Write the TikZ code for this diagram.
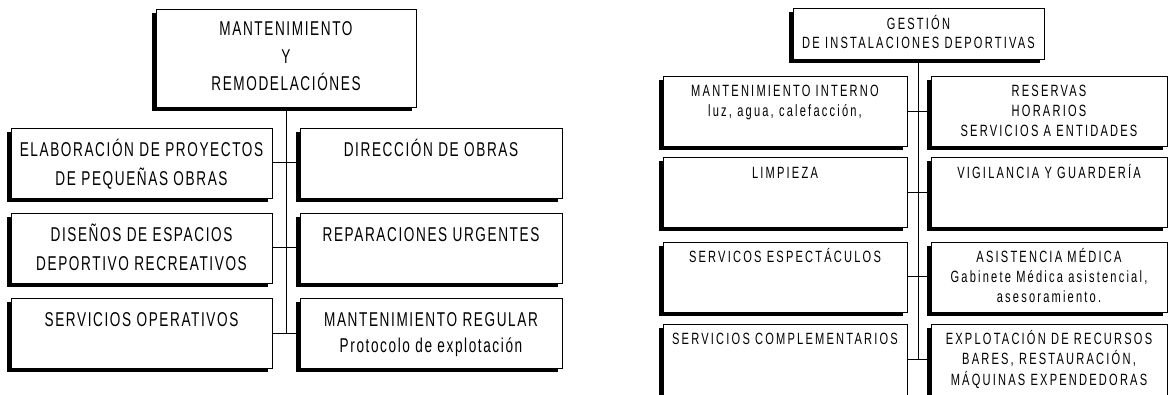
\documentclass[tikz,border=0pt]{standalone}
\usepackage{fontspec}
\setmainfont{Liberation Sans}
\newfontfamily\bigf[FakeStretch=0.68,LetterSpace=8]{Liberation Sans}
\newfontfamily\smallf[FakeStretch=0.68,LetterSpace=13.5]{Liberation Sans}
\usetikzlibrary{shadows}
\begin{document}
\begin{tikzpicture}[x=1pt,y=-1pt,
  box/.style={draw=black, line width=0.9pt, fill=white, inner sep=0pt, outer sep=0pt,
    drop shadow={shadow xshift=-4pt, shadow yshift=-4pt, fill=black, opacity=1}},
  lbox/.style={box, minimum width=261pt, minimum height=70pt},
  rbox/.style={box, minimum width=262pt, minimum height=70pt},
  glbox/.style={box, minimum width=244pt, minimum height=70pt},
  grbox/.style={box, minimum width=236pt, minimum height=70pt},
  ltext/.style={anchor=base, align=center, inner sep=0pt, font=\bigf\fontsize{20}{29}\selectfont},
  rtext/.style={anchor=base, align=center, inner sep=0pt, font=\smallf\fontsize{16.3}{20}\selectfont},
  link/.style={draw=black, line width=1pt}]
\useasboundingbox (0,0) rectangle (1168,395);
\clip (0,0) rectangle (1168,395);
\fill[white] (0,0) rectangle (1168,395);

% ---------- left diagram ----------
\node[box, minimum width=260pt, minimum height=98pt] (mtop) at (286,58) {};
\node[lbox] (mL1) at (141.5,163) {};
\node[rbox] (mR1) at (431,163) {};
\node[lbox] (mL2) at (141.5,248) {};
\node[rbox] (mR2) at (431,248) {};
\node[lbox] (mL3) at (141.5,333.5) {};
\node[rbox] (mR3) at (431,333.5) {};

\draw[link] (mtop.south) -- (mtop.south |- mL3.east);
\draw[link] (mL1.east) -- (mR1.west);
\draw[link] (mL2.east) -- (mR2.west);
\draw[link] (mL3.east) -- (mR3.west);

% (anchor=base of a multi-line node is the baseline of its last line)
\node[ltext, font=\bigf\fontsize{20}{27.5}\selectfont] (tmtop) at (286,91) {MANTENIMIENTO\\Y\\REMODELACIÓNES};
\node[ltext] (tmL1) at (141.5,185.5) {ELABORACIÓN DE PROYECTOS\\DE PEQUEÑAS OBRAS};
\node[ltext] (tmR1) at (431,156.5) {DIRECCIÓN DE OBRAS};
\node[ltext] (tmL2) at (141.5,270.5) {DISEÑOS DE ESPACIOS\\DEPORTIVO RECREATIVOS};
\node[ltext] (tmR2) at (431,241.5) {REPARACIONES URGENTES};
\node[ltext] (tmL3) at (141.5,327) {SERVICIOS OPERATIVOS};
\node[ltext] (tmR3) at (431,353) {MANTENIMIENTO REGULAR\\[-3pt]Protocolo de explotación};

% ---------- right diagram ----------
\node[box, minimum width=251pt, minimum height=51pt] (gtop) at (918.5,33.5) {};
\node[glbox] (gL1) at (785,111.5) {};
\node[grbox] (gR1) at (1049,111.5) {};
\node[glbox] (gL2) at (785,192.5) {};
\node[grbox] (gR2) at (1049,192.5) {};
\node[glbox] (gL3) at (785,277) {};
\node[grbox] (gR3) at (1049,277) {};
\node[glbox, minimum height=72pt] (gL4) at (785,360) {};
\node[grbox, minimum height=72pt] (gR4) at (1049,360) {};

\draw[link] (gtop.south) -- (gtop.south |- gL4.east);
\draw[link] (gL1.east) -- (gR1.west);
\draw[link] (gL2.east) -- (gR2.west);
\draw[link] (gL3.east) -- (gR3.west);
\draw[link] (gL4.east) -- (gR4.west);

\node[rtext, font=\smallf\fontsize{16.3}{18.3}\selectfont] (tgtop) at (918.5,48.3) {GESTIÓN\\DE INSTALACIONES DEPORTIVAS};
\node[rtext] (tgL1) at (785,117) {MANTENIMIENTO INTERNO\\luz, agua, calefacción,};
\node[rtext] (tgR1) at (1049,137) {RESERVAS\\HORARIOS\\SERVICIOS A ENTIDADES};
\node[rtext] (tgL2) at (785,179) {LIMPIEZA};
\node[rtext] (tgR2) at (1049,179) {VIGILANCIA Y GUARDERÍA};
\node[rtext] (tgL3) at (785,263) {SERVICOS ESPECTÁCULOS};
\node[rtext] (tgR3) at (1049,303) {ASISTENCIA MÉDICA\\Gabinete Médica asistencial,\\asesoramiento.};
\node[rtext] (tgL4) at (785,345) {SERVICIOS COMPLEMENTARIOS};
\node[rtext] (tgR4) at (1049,385) {EXPLOTACIÓN DE RECURSOS\\BARES, RESTAURACIÓN,\\MÁQUINAS EXPENDEDORAS};
\end{tikzpicture}
\end{document}
